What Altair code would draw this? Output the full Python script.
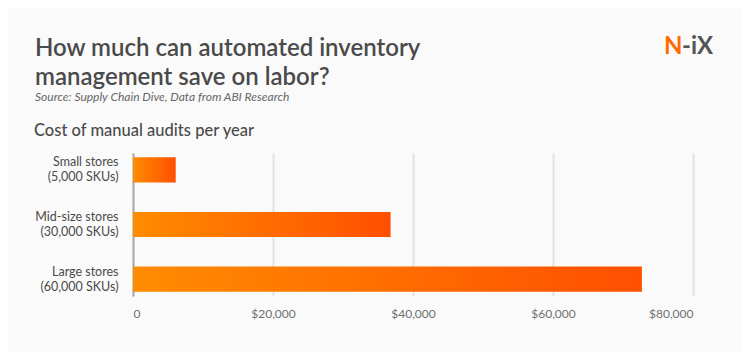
import altair as alt
import pandas as pd

categories = ["Small stores\n(5,000 SKUs)", "Mid-size stores\n(30,000 SKUs)", "Large stores\n(60,000 SKUs)"]
costs = [6100, 36800, 72700]
x_ticks = [0, 20000, 40000, 60000, 80000]

df = pd.DataFrame({"store": categories, "cost": costs})

W, H = 560, 143

bars = alt.Chart(df).mark_bar(
    color=alt.Gradient(
        gradient="linear",
        stops=[alt.GradientStop(color="#ff8c00", offset=0), alt.GradientStop(color="#ff4f00", offset=1)],
        x1=0, x2=1, y1=0, y2=0,
    )
).encode(
    x=alt.X("cost:Q", scale=alt.Scale(domain=[0, 80000], nice=False),
            axis=alt.Axis(values=x_ticks, labelExpr="datum.value == 0 ? '0' : '$' + format(datum.value, ',')",
                          title=None, grid=True, gridColor="#e2e2e2", gridWidth=2, ticks=False, domain=False,
                          labelPadding=12, labelFontSize=12, labelColor="#707070", labelFont="Lato")),
    y=alt.Y("store:N", sort=categories,
            scale=alt.Scale(paddingInner=0.54, paddingOuter=0.08),
            axis=alt.Axis(title=None, labelExpr="split(datum.label, '\\n')", ticks=False,
                          domainColor="#aaaaaa", domainWidth=2, labelPadding=15, labelFontSize=12.5,
                          labelOffset=-7.5,
                          labelColor="#4a4a4a", labelFont="Lato", labelLineHeight=15)),
)

texts = pd.DataFrame({"k": [0]})

def txt(t, x, y, size, color="#4a4a4a", style="normal", weight="normal"):
    return alt.Chart(texts).mark_text(
        align="left", baseline="alphabetic", font="Lato", fontSize=size, color=color,
        fontStyle=style, fontWeight=weight,
    ).encode(x=alt.value(x), y=alt.value(y), text=alt.value(t))

L, T = 133, 153
title1 = txt("How much can automated inventory", 35 - L, 56 - T, 24, weight=600)
title2 = txt("management save on labor?", 35 - L, 85 - T, 24, weight=600)
sub = txt("Source: Supply Chain Dive, Data from ABI Research", 35 - L, 101 - T, 12, "#666666", "italic")
head = txt("Cost of manual audits per year", 34 - L, 136 - T, 16.5, "#4a4a4a", weight=500)
logo1 = txt("N", 664 - L, 54 - T, 24, "#ff6a00", weight="bold")
logo2 = txt("-iX", 682 - L, 54 - T, 24, "#555555", weight="bold")

chart = alt.layer(bars, title1, title2, sub, head, logo1, logo2).properties(
    width=W, height=H,
    autosize=alt.AutoSizeParams(type="none"),
    padding={"left": L - 8, "top": T - 8, "right": 734 - (L - 8) - W, "bottom": 344 - (T - 8) - H},
    background="#fafafa",
).configure_view(stroke=None)

chart.save("out.html", embed_options={"renderer": "svg", "actions": False})
